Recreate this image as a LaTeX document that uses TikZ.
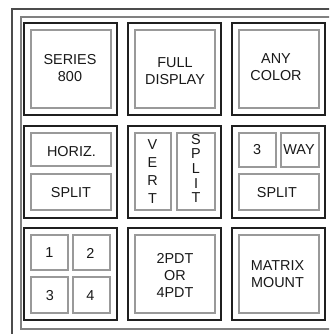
\documentclass[tikz,border=0pt]{standalone}
\usepackage{fontspec}
\setmainfont{Liberation Sans}
\begin{document}
\begin{tikzpicture}[x=1pt,y=-1pt,
  cell/.style={draw=black!88,line width=1.9pt,fill=white},
  gbox/.style={draw=black!40,line width=1.3pt},
  txt/.style={text=black!90,align=center,inner sep=0pt,font=\fontsize{14.4}{17}\selectfont},
  outerline/.style={draw=black!70,line width=1.4pt},
  innerline/.style={draw=black!50,line width=1.2pt}]
\useasboundingbox (0,0) rectangle (329,334);
\clip (0,0) rectangle (329,334);
\fill[white] (0,0) rectangle (329,334);
% frames
\draw[outerline] (12,345) -- (12,9) -- (345,9);
\draw[innerline] (345,17) -- (21,17) -- (21,329) -- (345,329);
% cells
\foreach \cx/\nm in {24/a,128/b,232/c}{
  \foreach \cy/\rw in {23/1,126/2,228/3}{
    \draw[cell] (\cx,\cy) rectangle ++(93,92);
  }
}
% row 1
\draw[gbox] (31,30) rectangle (111,108);
\draw[gbox] (135,30) rectangle (215,108);
\draw[gbox] (239,30) rectangle (319,108);
\node[txt] (series) at (70,68.5) {SERIES\\800};
\node[txt] (full) at (175,71) {FULL\\DISPLAY};
\node[txt] (any) at (276,67.5) {ANY\\COLOR};
% row 2
\draw[gbox] (31,133) rectangle (111,166);
\draw[gbox] (31,174) rectangle (111,210);
\node[txt] (horiz) at (71.5,152) {HORIZ.};
\node[txt] (hsplit) at (71,192.5) {SPLIT};
\draw[gbox] (135,133) rectangle (171,210);
\draw[gbox] (177,133) rectangle (215,210);
\node[txt,font=\fontsize{14.4}{18}\selectfont] (vert) at (152.5,172) {V\\E\\R\\T};
\node[txt,font=\fontsize{14.4}{14.7}\selectfont] (vsplit) at (196,168.5) {S\\P\\L\\I\\T};
\draw[gbox] (239,133) rectangle (276,167);
\draw[gbox] (281,133) rectangle (319,167);
\draw[gbox] (239,174) rectangle (319,210);
\node[txt] (three) at (257,150) {3};
\node[txt] (way) at (299,150) {WAY};
\node[txt] (tsplit) at (277,192.5) {SPLIT};
% row 3
\draw[gbox] (31,235) rectangle (68,270);
\draw[gbox] (73,235) rectangle (110,270);
\draw[gbox] (31,277) rectangle (68,313);
\draw[gbox] (73,277) rectangle (110,313);
\node[txt] (one) at (49.5,253) {1};
\node[txt] (two) at (90.5,253) {2};
\node[txt] (threeb) at (50,296) {3};
\node[txt] (four) at (90.5,296) {4};
\draw[gbox] (135,235) rectangle (215,313);
\draw[gbox] (239,235) rectangle (319,313);
\node[txt] (pdt) at (175,275) {2PDT\\OR\\4PDT};
\node[txt] (matrix) at (277.5,274) {MATRIX\\MOUNT};
\end{tikzpicture}
\end{document}
